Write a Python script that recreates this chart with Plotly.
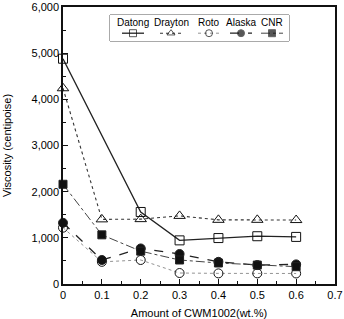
import plotly.graph_objects as go

names = ["Datong", "Drayton", "Roto", "Alaska", "CNR"]
x_datong = [0, 0.2, 0.3, 0.4, 0.5, 0.6]
y_datong = [4880, 1560, 945, 995, 1035, 1020]
x_all = [0, 0.1, 0.2, 0.3, 0.4, 0.5, 0.6]
y_drayton = [4240, 1400, 1405, 1475, 1390, 1390, 1385]
y_roto = [1220, 480, 520, 238, 230, 230, 228]
y_alaska = [1325, 520, 770, 650, 480, 410, 425]
y_cnr = [2160, 1065, 712, 520, 455, 410, 375]

xs = [x_datong, x_all, x_all, x_all, x_all]
ys = [y_datong, y_drayton, y_roto, y_alaska, y_cnr]
symbols = ["square-open", "triangle-up-open", "circle-open", "circle", "square"]
dashes = ["solid", "dot", "dot", "dash", "dashdot"]
widths = [1.3, 1.1, 0.8, 1.3, 1.0]
sizes = [9, 10, 9, 9, 8]
line_colors = ["#222", "#333", "#777", "#222", "#444"]

# legend layout (custom legend: label above sample)
legend_pos = [133, 171, 209, 241, 272]

fig = go.Figure()
for i in range(5):
    fig.add_trace(go.Scatter(
        x=xs[i], y=ys[i], mode="lines+markers", showlegend=False, cliponaxis=False,
        line=dict(color=line_colors[i], width=widths[i], dash=dashes[i]),
        marker=dict(symbol=symbols[i], size=sizes[i], color="#111",
                    line=dict(color="#222", width=1)),
    ))
    # legend sample
    fig.add_trace(go.Scatter(
        x=[legend_pos[i] - 11, legend_pos[i], legend_pos[i] + 11], y=[0.3, 0.3, 0.3],
        xaxis="x2", yaxis="y2", mode="lines+markers", showlegend=False, hoverinfo="skip",
        line=dict(color=line_colors[i], width=widths[i], dash=dashes[i]),
        marker=dict(symbol=symbols[i], size=[0, 7, 0], color="#111",
                    line=dict(color="#222", width=1)),
    ))

W, H = 344, 319
ml, mr, mt, mb = 63, 9, 7, 35
pw, ph = W - ml - mr, H - mt - mb
bx0, bx1, by0, by1 = 110, 289, 15, 41
dom_x = [(bx0 - ml) / pw, (bx1 - ml) / pw]
dom_y = [1 - (by1 - mt) / ph, 1 - (by0 - mt) / ph]

for i in range(5):
    fig.add_annotation(x=legend_pos[i], y=0.72, xref="x2", yref="y2", text=names[i],
                       showarrow=False, font=dict(size=10, color="#000"))

fig.add_shape(type="rect", xref="paper", yref="paper",
              x0=dom_x[0], x1=dom_x[1], y0=dom_y[0], y1=dom_y[1],
              line=dict(color="#555", width=1), fillcolor="white", layer="below")

fig.update_layout(
    width=W, height=H, margin=dict(l=ml, r=mr, t=mt, b=mb, autoexpand=False),
    paper_bgcolor="white", plot_bgcolor="white",
    font=dict(family="Liberation Sans, Arial", size=11, color="#000"),
    xaxis=dict(range=[0, 0.7], tickvals=[0, 0.1, 0.2, 0.3, 0.4, 0.5, 0.6, 0.7],
               ticktext=["0", "0.1", "0.2", "0.3", "0.4", "0.5", "0.6", "0.7"],
               ticks="inside", ticklen=5, tickcolor="#111", automargin=False,
               minor=dict(dtick=0.05, ticks="inside", ticklen=3, tickcolor="#111"),
               showline=True, linecolor="#111", linewidth=1.5, mirror=True,
               showgrid=False, zeroline=False,
               title=dict(text="Amount of CWM1002(wt.%)", font=dict(size=11), standoff=12)),
    yaxis=dict(range=[0, 6000], tickvals=[0, 1000, 2000, 3000, 4000, 5000, 6000],
               ticktext=["0", "1,000", "2,000", "3,000", "4,000", "5,000", "6,000"],
               ticks="inside", ticklen=5, tickcolor="#111", automargin=False,
               minor=dict(dtick=500, ticks="inside", ticklen=3, tickcolor="#111"),
               showline=True, linecolor="#111", linewidth=1.5, mirror=True,
               showgrid=False, zeroline=False,
               title=dict(text="Viscosity (centipoise)", font=dict(size=11), standoff=18)),
    xaxis2=dict(domain=dom_x, range=[bx0, bx1], visible=False, anchor="y2"),
    yaxis2=dict(domain=dom_y, range=[0, 1], visible=False, anchor="x2"),
)

fig.write_html("out.html")
